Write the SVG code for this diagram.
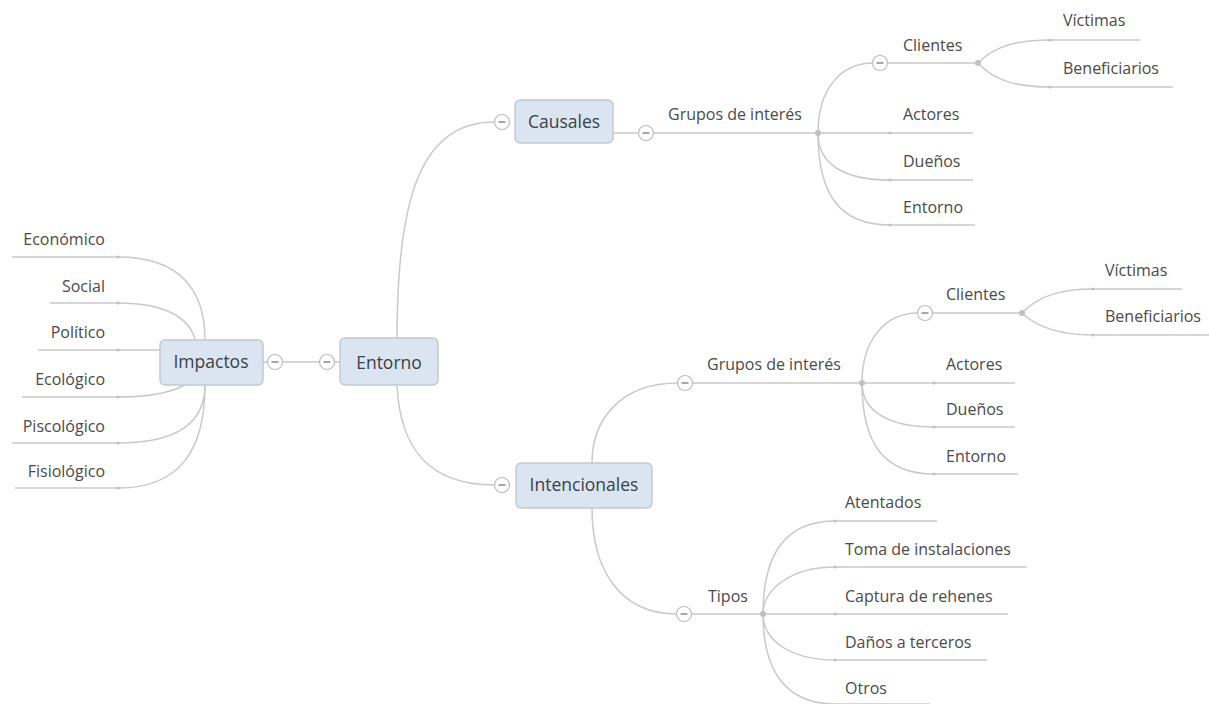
<svg xmlns="http://www.w3.org/2000/svg" width="1209" height="704" viewBox="0 0 1209 704">
<defs>
<style>
.ln{fill:none;stroke:#c9c9c9;stroke-width:1.5}
.dot{fill:#c0c0c0}
.t{font-family:"Open Sans","Noto Sans","DejaVu Sans",sans-serif;font-size:16px;fill:#4a4a4a}
.r{text-anchor:end}
.box{fill:#dbe5f1;stroke:#c3c9d0;stroke-width:1.5}
.bt{font-family:"Open Sans","Noto Sans","DejaVu Sans",sans-serif;font-size:17.5px;fill:#3a3f48;text-anchor:middle}
.cc{fill:#fff;stroke:#bdbdbd;stroke-width:1.2}
.mn{stroke:#8a8a8a;stroke-width:1.5}
</style>
<g id="col"><circle class="cc" r="7.5"/><line class="mn" x1="-3.5" y1="0" x2="3.5" y2="0"/></g>
</defs>
<rect width="1209" height="704" fill="#fff"/>
<g id="connectors">
<path class="ln" d="M205,340 C205,290 180,257 118,257 L12,257"/>
<path class="ln" d="M195,340 C190,318 165,303 118,303 L50,303"/>
<path class="ln" d="M160,350 L38,350"/>
<path class="ln" d="M185,385 C170,393 150,397 118,397 L22,397"/>
<path class="ln" d="M205,385 C205,425 175,443 118,443 L12,443"/>
<path class="ln" d="M205,385 C205,450 180,488 118,488 L15,488"/>
<line class="ln" x1="263" y1="362" x2="340" y2="362"/>
<path class="ln" d="M397,338 C397,200 420,122 494,122"/>
<path class="ln" d="M397,385 C400,450 430,485 494,485"/>
<line class="ln" x1="613" y1="133" x2="818" y2="133"/>
<path class="ln" d="M818,133 C818,90 840,63 873,63"/>
<line class="ln" x1="887" y1="63" x2="978" y2="63"/>
<path class="ln" d="M978,63 C995,45 1020,40 1050,40 L1140,40"/>
<path class="ln" d="M978,63 C995,82 1020,87 1050,87 L1173,87"/>
<line class="ln" x1="818" y1="133" x2="973" y2="133"/>
<path class="ln" d="M818,133 C818,165 845,180 890,180 L973,180"/>
<path class="ln" d="M818,133 C818,195 840,225 890,225 L975,225"/>
<path class="ln" d="M592,463 C592,420 620,383 678,383"/>
<line class="ln" x1="692" y1="383" x2="862" y2="383"/>
<path class="ln" d="M862,383 C862,340 885,313 918,313"/>
<line class="ln" x1="932" y1="313" x2="1022" y2="313"/>
<path class="ln" d="M1022,313 C1040,294 1065,289 1093,289 L1182,289"/>
<path class="ln" d="M1022,313 C1040,330 1065,335 1093,335 L1209,335"/>
<line class="ln" x1="862" y1="383" x2="1015" y2="383"/>
<path class="ln" d="M862,383 C862,412 890,427 934,427 L1015,427"/>
<path class="ln" d="M862,383 C862,445 885,474 934,474 L1018,474"/>
<path class="ln" d="M592,508 C592,570 620,614 677,614"/>
<line class="ln" x1="691" y1="614" x2="763" y2="614"/>
<path class="ln" d="M763,614 C763,555 785,521 835,521 L937,521"/>
<path class="ln" d="M763,614 C763,590 790,567 835,567 L1027,567"/>
<line class="ln" x1="763" y1="614" x2="1008" y2="614"/>
<path class="ln" d="M763,614 C763,640 790,660 835,660 L987,660"/>
<path class="ln" d="M763,614 C763,670 785,704 835,704 L930,704"/>
<circle class="dot" cx="818" cy="133" r="3"/>
<circle class="dot" cx="978" cy="63" r="3"/>
<circle class="dot" cx="862" cy="383" r="3"/>
<circle class="dot" cx="1022" cy="313" r="3"/>
<circle class="dot" cx="763" cy="614" r="3"/>
<g class="dot">
<circle cx="118" cy="257" r="1.5"/><circle cx="118" cy="303" r="1.5"/><circle cx="118" cy="350" r="1.5"/>
<circle cx="118" cy="397" r="1.5"/><circle cx="118" cy="443" r="1.5"/><circle cx="118" cy="488" r="1.5"/>
<circle cx="1050" cy="40" r="1.5"/><circle cx="1050" cy="87" r="1.5"/>
<circle cx="890" cy="133" r="1.5"/><circle cx="890" cy="180" r="1.5"/><circle cx="890" cy="225" r="1.5"/>
<circle cx="1093" cy="289" r="1.5"/><circle cx="1093" cy="335" r="1.5"/>
<circle cx="934" cy="383" r="1.5"/><circle cx="934" cy="427" r="1.5"/><circle cx="934" cy="474" r="1.5"/>
<circle cx="835" cy="521" r="1.5"/><circle cx="835" cy="567" r="1.5"/><circle cx="835" cy="614" r="1.5"/><circle cx="835" cy="660" r="1.5"/>
</g>
</g>
<g id="collapse">
<use href="#col" x="275" y="362"/>
<use href="#col" x="327" y="362"/>
<use href="#col" x="502" y="122"/>
<use href="#col" x="646" y="133"/>
<use href="#col" x="880" y="63"/>
<use href="#col" x="502" y="485"/>
<use href="#col" x="685" y="383"/>
<use href="#col" x="925" y="313"/>
<use href="#col" x="684" y="614"/>
</g>
<g id="n-entorno"><rect class="box" x="340" y="338" width="98" height="47" rx="5"/><text class="bt" x="389" y="369" font-size="21">Entorno</text></g>
<g id="n-impactos"><rect class="box" x="160" y="340" width="103" height="45" rx="5"/><text class="bt" x="211" y="368">Impactos</text></g>
<g id="n-causales"><rect class="box" x="515" y="100" width="98" height="43" rx="5"/><text class="bt" x="564" y="128">Causales</text></g>
<g id="n-intencionales"><rect class="box" x="516" y="463" width="136" height="45" rx="5"/><text class="bt" x="584" y="491">Intencionales</text></g>
<g id="leaves-impactos">
<text class="t r" x="105" y="245">Económico</text>
<text class="t r" x="105" y="292">Social</text>
<text class="t r" x="105" y="338">Político</text>
<text class="t r" x="105" y="385">Ecológico</text>
<text class="t r" x="105" y="432">Piscológico</text>
<text class="t r" x="105" y="477">Fisiológico</text>
</g>
<g id="n-causales-sub">
<text class="t" x="668" y="120">Grupos de interés</text>
<text class="t" x="903" y="51">Clientes</text>
<text class="t" x="1063" y="26">Víctimas</text>
<text class="t" x="1063" y="74">Beneficiarios</text>
<text class="t" x="903" y="120">Actores</text>
<text class="t" x="903" y="167">Dueños</text>
<text class="t" x="903" y="213">Entorno</text>
</g>
<g id="n-intencionales-sub">
<text class="t" x="707" y="370">Grupos de interés</text>
<text class="t" x="946" y="300">Clientes</text>
<text class="t" x="1105" y="276">Víctimas</text>
<text class="t" x="1105" y="322">Beneficiarios</text>
<text class="t" x="946" y="370">Actores</text>
<text class="t" x="946" y="415">Dueños</text>
<text class="t" x="946" y="462">Entorno</text>
<text class="t" x="708" y="602">Tipos</text>
<text class="t" x="845" y="508">Atentados</text>
<text class="t" x="845" y="555">Toma de instalaciones</text>
<text class="t" x="845" y="602">Captura de rehenes</text>
<text class="t" x="845" y="648">Daños a terceros</text>
<text class="t" x="845" y="694">Otros</text>
</g>
</svg>
